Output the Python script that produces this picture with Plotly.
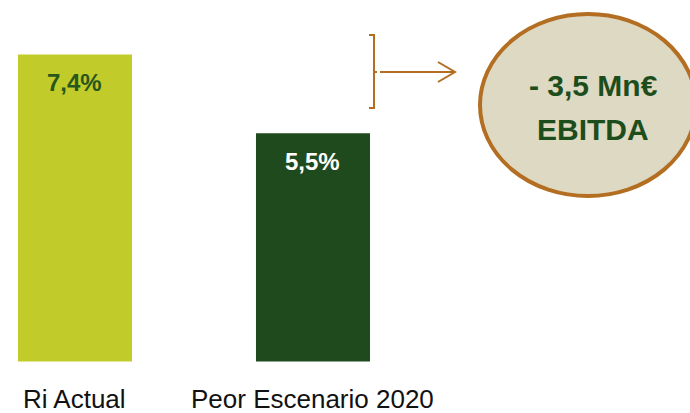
import plotly.graph_objects as go

# Data
categories = ["Ri Actual", "Peor Escenario 2020"]
values = [7.4, 5.5]
bar_colors = ["#c1cb29", "#1f4a1d"]
label_colors = ["#29561c", "#ffffff"]
callout_lines = ["- 3,5 Mn€", "EBITDA"]

W, H = 690, 413
FONT = "Liberation Sans, Arial, sans-serif"
BROWN = "#b36e22"


def px(x):
    return x / W


def py(y):
    return 1 - y / H


fig = go.Figure()
fig.add_trace(go.Bar(
    x=categories, y=values, marker_color=bar_colors, width=0.479,
    marker_line_width=0, hoverinfo="skip",
))

annotations = []
for c, v, col in zip(categories, values, label_colors):
    annotations.append(dict(
        x=c, y=v, xref="x", yref="y", text="<b>" + f"{v:.1f}".replace(".", ",") + "%</b>",
        showarrow=False, yanchor="middle", yshift=-28,
        font=dict(family=FONT, size=24, color=col),
    ))
    annotations.append(dict(
        x=c, y=0, xref="x", yref="y", text=c, showarrow=False,
        yanchor="middle", yshift=-37,
        font=dict(family=FONT, size=26, color="#111111"),
    ))

# Callout ellipse text
for i, t in enumerate(callout_lines):
    annotations.append(dict(
        x=px(593), y=py(85 + 45 * i), xref="paper", yref="paper",
        text="<b>" + t + "</b>", showarrow=False, xanchor="center", yanchor="middle",
        font=dict(family=FONT, size=30, color="#1e4d1c"),
    ))

shapes = [
    dict(type="circle", xref="paper", yref="paper",
         x0=px(480), x1=px(696), y0=py(196), y1=py(14),
         line=dict(color=BROWN, width=4), fillcolor="#ddd9c3", layer="below"),
    # bracket
    dict(type="path", xref="paper", yref="paper",
         path=f"M {px(369)} {py(35)} L {px(374)} {py(35)} L {px(374)} {py(108)} L {px(369)} {py(108)}",
         line=dict(color=BROWN, width=2)),
    dict(type="path", xref="paper", yref="paper",
         path=f"M {px(374)} {py(72)} L {px(377)} {py(72)} M {px(380)} {py(72)} L {px(455)} {py(72)}",
         line=dict(color=BROWN, width=2)),
    dict(type="path", xref="paper", yref="paper",
         path=f"M {px(438)} {py(62)} L {px(455)} {py(72)} L {px(438)} {py(82)}",
         line=dict(color=BROWN, width=2)),
]

fig.update_layout(
    width=W, height=H, margin=dict(l=0, r=0, t=0, b=0),
    paper_bgcolor="white", plot_bgcolor="white", showlegend=False,
    xaxis=dict(type="category", range=[-0.315, 2.584], visible=False, fixedrange=True),
    yaxis=dict(range=[-1.241, 8.711], visible=False, fixedrange=True),
    annotations=annotations, shapes=shapes,
)

fig.write_html(
    "out.html", config={"displayModeBar": False},
    post_script="document.body.style.margin='0';document.body.style.overflow='hidden';",
)
